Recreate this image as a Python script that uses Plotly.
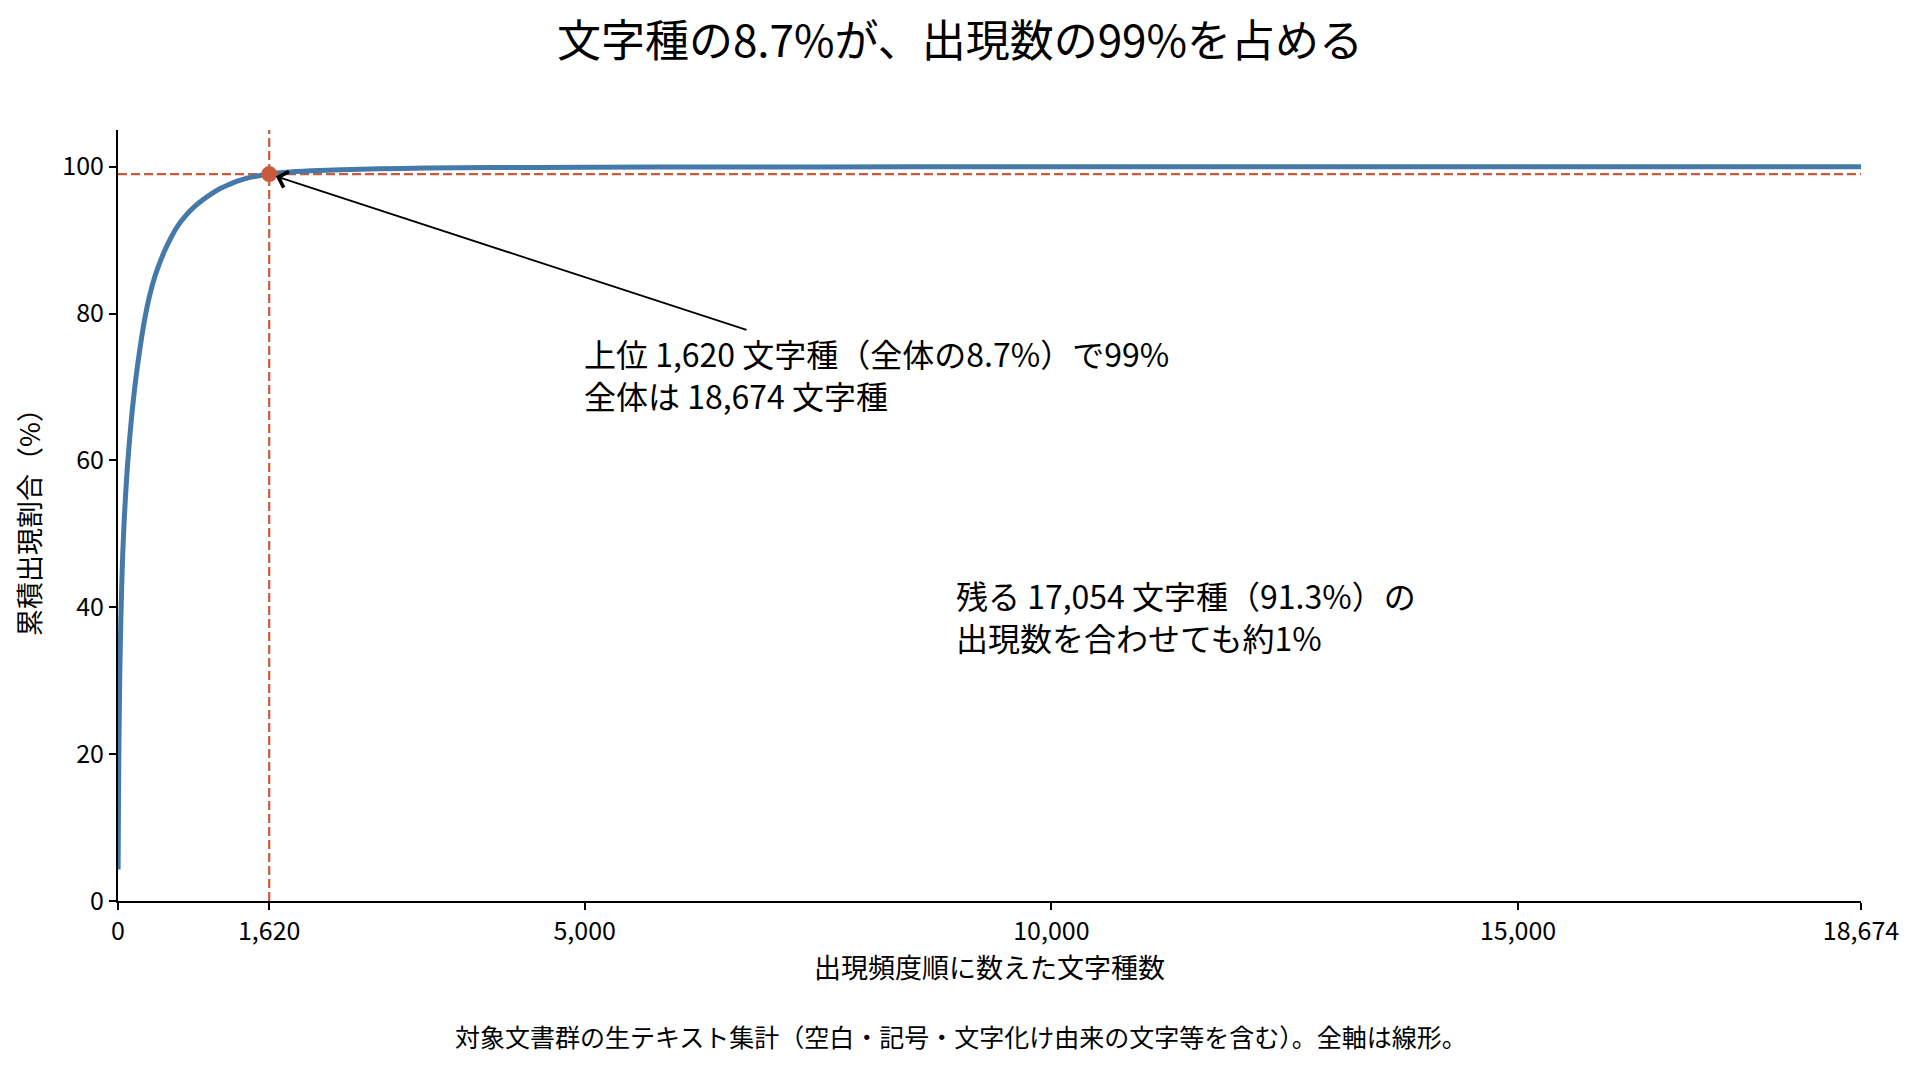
import plotly.graph_objects as go

FONT = "Noto Sans CJK JP"
BLUE = "#4479A9"
ORANGE = "#C95A3B"

# 出現頻度順の累積出現割合
rank = [1, 3, 6, 10, 15, 20, 30, 40, 50, 65, 80, 100, 125, 150, 180, 210, 250, 290,
        340, 394, 450, 501, 570, 644, 730, 822, 910, 1000, 1090, 1178, 1270, 1356,
        1480, 1620, 1800, 2070, 2400, 2800, 3300, 4000, 5000, 6500, 8500, 11000,
        14000, 18674]
cum_pct = [4.3, 9.0, 15.0, 21.0, 27.0, 31.5, 38.0, 43.0, 47.0, 51.5, 55.0, 59.0,
           63.0, 66.5, 70.0, 73.0, 76.5, 79.5, 82.5, 85.0, 87.0, 88.6, 90.4, 92.0,
           93.4, 94.6, 95.5, 96.3, 97.0, 97.5, 98.0, 98.35, 98.7, 99.0, 99.25, 99.45,
           99.6, 99.72, 99.81, 99.88, 99.93, 99.96, 99.98, 99.99, 100.0, 100.0]

total_chars = 18674
top_n = 1620
threshold = 99

x_tickvals = [0, 1620, 5000, 10000, 15000, 18674]
x_ticktext = ["0", "1,620", "5,000", "10,000", "15,000", "18,674"]
y_tickvals = [0, 20, 40, 60, 80, 100]

fig = go.Figure()

fig.add_trace(go.Scatter(
    x=rank, y=cum_pct,
    mode='lines',
    line=dict(color=BLUE, width=5, shape='spline', smoothing=0.6),
    hoverinfo='skip'
))

fig.add_trace(go.Scatter(
    x=[top_n], y=[threshold],
    mode='markers',
    marker=dict(color=ORANGE, size=16),
    hoverinfo='skip'
))

# 99% と 1,620 の補助線
fig.add_shape(type='line', xref='x', yref='paper', x0=top_n, x1=top_n, y0=0, y1=1,
              line=dict(color=ORANGE, width=2.2, dash='9px,4px'), layer='below')
fig.add_shape(type='line', xref='paper', yref='y', x0=0, x1=1, y0=threshold, y1=threshold,
              line=dict(color=ORANGE, width=2.2, dash='9px,4px'), layer='below')

# 矢印
fig.add_annotation(
    x=top_n, y=threshold, xref='x', yref='y',
    ax=6750, ay=77.7, axref='x', ayref='y',
    text='', showarrow=True,
    arrowhead=4, arrowsize=1.8, arrowwidth=1.8, arrowcolor='black', standoff=7
)

fig.add_annotation(
    x=4975, y=71.8, xref='x', yref='y',
    text="上位 1,620 文字種（全体の8.7%）で99%<br>全体は 18,674 文字種",
    showarrow=False, xanchor='left', yanchor='middle', align='left',
    font=dict(family=FONT, size=32, color='black')
)

fig.add_annotation(
    x=8960, y=38.85, xref='x', yref='y',
    text="残る 17,054 文字種（91.3%）の<br>出現数を合わせても約1%",
    showarrow=False, xanchor='left', yanchor='middle', align='left',
    font=dict(family=FONT, size=32, color='black')
)

fig.add_annotation(
    x=0.4835, y=-0.175, xref='paper', yref='paper',
    text="対象文書群の生テキスト集計（空白・記号・文字化け由来の文字等を含む）。全軸は線形。",
    showarrow=False, xanchor='center', yanchor='middle',
    font=dict(family=FONT, size=25, color='black')
)

fig.update_layout(
    title=dict(
        text="文字種の8.7%が、出現数の99%を占める",
        x=0.5, xref='container', xanchor='center',
        y=0.968, yref='container', yanchor='middle',
        font=dict(family=FONT, size=44, color='black'),
        automargin=False
    ),
    showlegend=False,
    plot_bgcolor='white',
    paper_bgcolor='white',
    font=dict(family=FONT, color='black'),
    margin=dict(l=110, r=51, t=122, b=157),
    xaxis=dict(
        range=[0, total_chars],
        tickvals=x_tickvals, ticktext=x_ticktext,
        showline=True, linecolor='black', linewidth=2,
        ticks='outside', ticklen=7, tickwidth=2, tickcolor='black',
        showgrid=False, zeroline=False, automargin=False,
        tickfont=dict(family=FONT, size=25),
        title=dict(text="出現頻度順に数えた文字種数", font=dict(family=FONT, size=27), standoff=8)
    ),
    yaxis=dict(
        range=[0, 105],
        tickvals=y_tickvals,
        showline=True, linecolor='black', linewidth=2,
        ticks='outside', ticklen=7, tickwidth=2, tickcolor='black',
        showgrid=False, zeroline=False, automargin=False,
        tickfont=dict(family=FONT, size=25),
        title=dict(text="累積出現割合（%）", font=dict(family=FONT, size=27), standoff=14)
    )
)

fig.write_html("out.html")
